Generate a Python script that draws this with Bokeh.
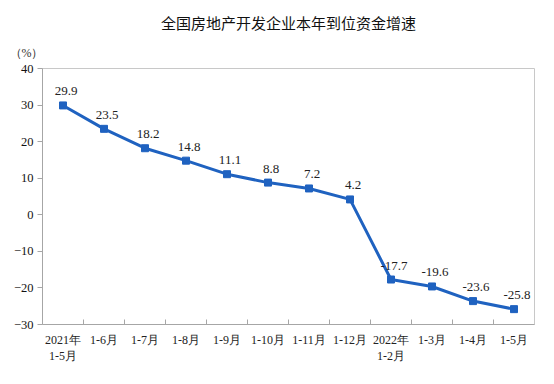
from bokeh.plotting import figure
from bokeh.models import ColumnDataSource, FixedTicker, Range1d, Title, LabelSet
from bokeh.embed import file_html
from bokeh.resources import INLINE

categories = ["2021年\n1-5月", "1-6月", "1-7月", "1-8月", "1-9月", "1-10月", "1-11月",
              "1-12月", "2022年\n1-2月", "1-3月", "1-4月", "1-5月"]
values = [29.9, 23.5, 18.2, 14.8, 11.1, 8.8, 7.2, 4.2, -17.7, -19.6, -23.6, -25.8]
y_ticks = [-30, -20, -10, 0, 10, 20, 30, 40]

FONT = "Liberation Serif"
BLUE = "#1f62c0"
GRAY = "#a6a6a6"

n = len(categories)
xs = [i + 0.5 for i in range(n)]
labels = [f"{v:.1f}" for v in values]
src = ColumnDataSource(dict(x=xs, y=values, label=labels))

p = figure(width=546, height=376, output_backend="svg", toolbar_location=None,
           x_range=Range1d(0, n), y_range=Range1d(-30, 40),
           min_border_left=42, min_border_right=12, min_border_top=68, min_border_bottom=52)
p.background_fill_color = "white"
p.border_fill_color = "white"
p.outline_line_color = "#c8c8c8"
p.xgrid.visible = False
p.ygrid.visible = False

p.line("x", "y", source=src, line_color=BLUE, line_width=3)
p.scatter("x", "y", source=src, marker="square", size=7, color=BLUE)

ls = LabelSet(x="x", y="y", text="label", source=src, text_align="center",
              text_baseline="alphabetic", y_offset=10, x_offset=3, text_font=FONT,
              text_font_size="13px", text_color="#222222")
p.add_layout(ls)

# x axis
p.xaxis.ticker = FixedTicker(ticks=xs, minor_ticks=list(range(1, n)))
p.xaxis.major_label_overrides = {x: c for x, c in zip(xs, categories)}
p.xaxis.major_tick_in = 0
p.xaxis.major_tick_out = 0
p.xaxis.minor_tick_in = 5
p.xaxis.minor_tick_out = 0
p.xaxis.minor_tick_line_color = GRAY
p.xaxis.axis_line_color = GRAY
p.xaxis.major_label_text_font = FONT
p.xaxis.major_label_text_font_size = "12px"
p.xaxis.major_label_text_color = "#222222"
p.xaxis.major_label_standoff = 8

# y axis
p.yaxis.ticker = FixedTicker(ticks=y_ticks, minor_ticks=[])
p.yaxis.major_tick_in = 0
p.yaxis.major_tick_out = 5
p.yaxis.major_tick_line_color = GRAY
p.yaxis.axis_line_color = GRAY
p.yaxis.major_label_text_font = FONT
p.yaxis.major_label_text_font_size = "12.5px"
p.yaxis.major_label_text_color = "#111111"
p.yaxis.major_label_standoff = 4

p.add_layout(Title(text="（%）", align="left", offset=-33, standoff=17, text_font=FONT,
                   text_font_size="12px", text_font_style="normal",
                   text_color="#333333"), "above")
p.add_layout(Title(text="全国房地产开发企业本年到位资金增速", align="center",
                   standoff=5, text_font="Noto Sans CJK SC", text_font_size="15px",
                   text_font_style="normal", text_color="#111111"), "above")

open("out.html", "w").write(file_html(p, INLINE))
